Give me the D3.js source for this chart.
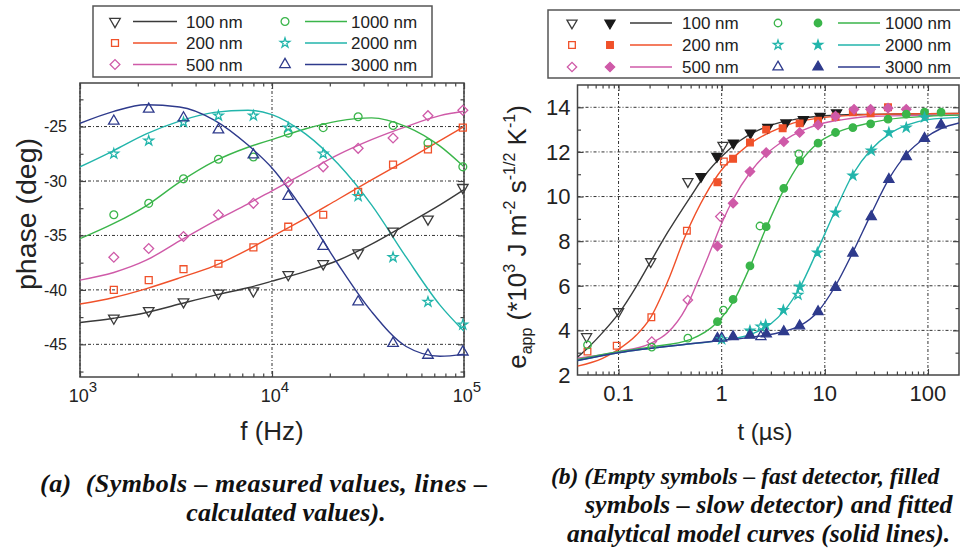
<!DOCTYPE html>
<html>
<head>
<meta charset="utf-8">
<script src="https://cdn.jsdelivr.net/npm/d3@7"></script>
<style>
  body { margin: 0; background: #fff; }
  svg { display: block; }
  text { font-family: Arial, "Liberation Sans", sans-serif; fill: #222; }
</style>
</head>
<body>
<div id="chart"></div>
<script>
// ---------- shared series info ----------
const seriesLabels = ["100 nm", "200 nm", "500 nm", "1000 nm", "2000 nm", "3000 nm"];
const seriesColors = ["#3a3a3a", "#f0512a", "#cf5aa8", "#3ab54a", "#22b5ab", "#2e3a8c"];
const seriesKinds = ["down", "square", "diamond", "circle", "star", "up"];

// ---------- panel (a): phase vs frequency ----------
const measFreq = [1500, 2280, 3460, 5260, 8000, 12150, 18480, 28100, 42700, 64900, 98600];
const phaseMeas100 = [-42.6, -41.9, -41.1, -40.3, -40.1, -38.6, -37.6, -36.6, -34.6, -33.5, -30.6];
const phaseMeas200 = [-40.0, -39.1, -38.1, -37.6, -36.1, -34.2, -33.1, -31.0, -28.5, -27.1, -25.1];
const phaseMeas500 = [-37.0, -36.2, -35.1, -33.1, -32.05, -30.1, -28.7, -27.0, -26.05, -24.0, -23.5];
const phaseMeas1000 = [-33.1, -32.05, -29.8, -28.0, -27.8, -25.6, -25.1, -24.1, -24.9, -26.5, -28.7];
const phaseMeas2000 = [-27.5, -26.3, -24.6, -24.0, -24.0, -25.1, -27.5, -31.4, -37.0, -41.1, -43.2];
const phaseMeas3000 = [-24.5, -23.4, -24.2, -25.3, -27.6, -31.4, -36.0, -41.1, -44.9, -46.0, -45.7];

const fitFreq = [1000, 1500, 2200, 3300, 5000, 7500, 10000, 15000, 22000, 33000, 50000, 75000, 100000];
const phaseFit100 = [-43.0, -42.6, -42.1, -41.3, -40.5, -39.8, -39.2, -38.3, -37.3, -35.8, -34.0, -32.2, -30.8];
const phaseFit200 = [-41.3, -40.7, -39.9, -38.9, -37.8, -36.3, -35.1, -33.4, -31.7, -29.9, -28.1, -26.3, -25.0];
const phaseFit500 = [-39.1, -38.4, -37.3, -35.5, -33.7, -32.1, -30.9, -29.2, -27.6, -26.2, -25.0, -24.0, -23.6];
const phaseFit1000 = [-35.3, -33.9, -32.3, -30.1, -28.2, -26.9, -26.2, -25.2, -24.5, -24.2, -25.0, -26.8, -28.7];
const phaseFit2000 = [-28.7, -27.2, -25.7, -24.5, -23.7, -23.5, -23.9, -25.7, -28.4, -32.2, -37.0, -41.4, -43.8];
const phaseFit3000 = [-24.7, -23.6, -23.0, -23.2, -24.4, -26.7, -28.8, -33.0, -37.6, -42.0, -45.2, -46.1, -45.9];

const freqMajor = [1e3, 1e4, 1e5];
const freqMinor = [2e3, 3e3, 4e3, 5e3, 6e3, 7e3, 8e3, 9e3, 2e4, 3e4, 4e4, 5e4, 6e4, 7e4, 8e4, 9e4];
const phaseMajor = [-25, -30, -35, -40, -45];
const phaseMinor = [-22.5, -27.5, -32.5, -37.5, -42.5, -47.5];

// ---------- panel (b): e_app vs time ----------
const fastT100 = [0.049, 0.1, 0.205, 0.47, 1.03];
const fastE100 = [3.72, 4.84, 7.08, 10.67, 12.3];
const fastT200 = [0.05, 0.096, 0.208, 0.46, 1.05];
const fastE200 = [3.05, 3.31, 4.59, 8.47, 11.57];
const fastT500 = [0.21, 0.47, 0.97];
const fastE500 = [3.5, 5.36, 9.1];
const fastT1000 = [0.05, 0.21, 0.47, 1.04, 2.35, 5.6];
const fastE1000 = [3.35, 3.25, 3.65, 4.91, 8.68, 11.91];
const fastT2000 = [1.0, 2.4, 5.5];
const fastE2000 = [3.6, 4.17, 5.59];
const fastT3000 = [1.0, 2.4];
const fastE3000 = [3.65, 3.72];

const slowT100 = [0.63, 0.9, 1.3, 1.9, 2.8, 4.2, 6.2, 9, 13];
const slowE100 = [10.9, 11.8, 12.4, 12.85, 13.1, 13.3, 13.45, 13.6, 13.75];
const slowT200 = [0.91, 1.29, 1.88, 2.7, 3.9, 5.7, 8.6, 12.7, 18.7, 27.8, 41];
const slowE200 = [10.64, 11.69, 12.42, 13.0, 13.06, 13.28, 13.4, 13.58, 13.78, 13.73, 14.0];
const slowT500 = [0.91, 1.29, 1.88, 2.7, 4.0, 5.7, 8.6, 12.7, 19.2, 27.8, 41, 61.6];
const slowE500 = [7.78, 9.7, 11.12, 11.97, 12.46, 12.87, 13.21, 13.6, 13.91, 13.91, 13.96, 13.91];
const slowT1000 = [0.91, 1.29, 1.88, 2.7, 4.0, 5.7, 8.6, 12.7, 18.7, 27.8, 41, 61.6, 92.6, 134];
const slowE1000 = [4.39, 5.39, 6.89, 8.65, 10.37, 11.6, 12.39, 12.87, 13.09, 13.26, 13.47, 13.69, 13.78, 13.78];
const slowT2000 = [1.88, 2.67, 3.96, 5.73, 8.46, 12.7, 18.7, 28.2, 41.8, 61.6, 92.6];
const slowE2000 = [3.99, 4.24, 4.91, 5.96, 7.48, 9.28, 10.94, 12.06, 12.87, 13.09, 13.55];
const slowT3000 = [0.91, 1.29, 1.88, 2.71, 4.0, 5.7, 8.6, 12.7, 18.7, 28.2, 41.8, 61.6, 92.6, 134];
const slowE3000 = [3.64, 3.72, 3.78, 3.84, 3.94, 4.2, 4.84, 5.93, 7.46, 9.1, 10.77, 11.79, 12.61, 13.21];

const fitT100 = [0.04, 0.05, 0.07, 0.1, 0.15, 0.2, 0.3, 0.5, 0.7, 1, 1.5, 2, 3, 5, 10, 20, 50, 200];
const fitE100 = [2.8, 3.2, 3.9, 4.75, 6.0, 7.0, 8.4, 10.0, 11.0, 11.8, 12.5, 12.85, 13.2, 13.45, 13.62, 13.68, 13.7, 13.72];
const fitT200 = [0.04, 0.07, 0.1, 0.15, 0.2, 0.3, 0.45, 0.7, 1, 1.5, 2, 3, 5, 10, 20, 50, 200];
const fitE200 = [2.4, 2.75, 3.15, 3.8, 4.5, 6.2, 8.3, 10.1, 11.2, 12.0, 12.45, 12.9, 13.3, 13.55, 13.65, 13.7, 13.72];
const fitT500 = [0.04, 0.1, 0.2, 0.3, 0.45, 0.6, 0.8, 1, 1.3, 1.9, 2.7, 4, 6, 9, 15, 30, 200];
const fitE500 = [2.75, 3.05, 3.4, 3.9, 5.0, 6.3, 7.7, 8.8, 9.9, 11.1, 11.9, 12.5, 12.95, 13.25, 13.45, 13.6, 13.65];
const fitT1000 = [0.04, 0.1, 0.2, 0.5, 0.9, 1.3, 1.9, 2.7, 4, 5.7, 8.6, 12.7, 20, 40, 100, 200];
const fitE1000 = [2.7, 3.05, 3.25, 3.6, 4.35, 5.3, 6.9, 8.6, 10.3, 11.5, 12.4, 12.85, 13.15, 13.45, 13.6, 13.65];
const fitT2000 = [0.04, 0.1, 0.5, 1, 2, 3, 4, 5.7, 8.5, 12.7, 18.7, 28, 42, 62, 100, 200];
const fitE2000 = [2.65, 3.0, 3.4, 3.55, 3.85, 4.3, 4.85, 5.9, 7.6, 9.4, 11.0, 12.1, 12.8, 13.2, 13.45, 13.55];
const fitT3000 = [0.04, 0.1, 0.5, 1, 2, 4, 5.7, 8.6, 12.7, 18.7, 28, 42, 62, 92, 134, 200];
const fitE3000 = [2.65, 3.0, 3.4, 3.55, 3.7, 3.95, 4.2, 4.85, 6.0, 7.5, 9.2, 10.8, 11.9, 12.6, 13.05, 13.3];

const timeMajor = [0.1, 1, 10, 100];
const timeMinor = [0.05, 0.06, 0.07, 0.08, 0.09, 0.2, 0.3, 0.4, 0.5, 0.6, 0.7, 0.8, 0.9,
  2, 3, 4, 5, 6, 7, 8, 9, 20, 30, 40, 50, 60, 70, 80, 90];
const eMajor = [2, 4, 6, 8, 10, 12, 14];
const eMinor = [3, 5, 7, 9, 11, 13];

// ---------- helpers ----------
const zip = (xs, ys) => xs.map((x, i) => [x, ys[i]]);

function symbolPath(kind, size) {
  const types = { down: d3.symbolTriangle, up: d3.symbolTriangle, square: d3.symbolSquare,
    diamond: d3.symbolSquare, circle: d3.symbolCircle, star: d3.symbolStar };
  // stars look much bigger than the others at the same area
  const s = kind === "star" ? size * 0.6 : size;
  return d3.symbol().type(types[kind]).size(s)();
}
function symbolRot(kind) {
  return kind === "down" ? 180 : kind === "diamond" ? 45 : 0;
}
function drawSymbol(g, kind, cx, cy, size, color, filled) {
  g.append("path")
    .attr("d", symbolPath(kind, size))
    .attr("transform", "translate(" + cx + "," + cy + ") rotate(" + symbolRot(kind) + ")")
    .attr("fill", filled ? color : "none")
    .attr("stroke", color)
    .attr("stroke-width", 1.3);
}

function frameAndTicks(g, x, y, w, h, xMaj, xMin, yMaj, yMin) {
  // dotted grid
  g.selectAll(".hgrid").data(yMaj).enter().append("line")
    .attr("x1", 0).attr("x2", w)
    .attr("y1", (d) => y(d)).attr("y2", (d) => y(d))
    .attr("stroke", "#333").attr("stroke-width", 1).attr("stroke-dasharray", "3,2,1,2");
  g.selectAll(".vgrid").data(xMaj).enter().append("line")
    .attr("y1", 0).attr("y2", h)
    .attr("x1", (d) => x(d)).attr("x2", (d) => x(d))
    .attr("stroke", "#333").attr("stroke-width", 1).attr("stroke-dasharray", "3,2,1,2");

  const tickStyle = (sel) => {
    sel.select(".domain").remove();
    sel.selectAll("line").attr("stroke", "#444").attr("stroke-width", 1.2);
  };
  g.append("g").attr("transform", "translate(0," + h + ")")
    .call(d3.axisBottom(x).tickValues(xMaj).tickSize(-6).tickFormat("")).call(tickStyle);
  g.append("g").attr("transform", "translate(0," + h + ")")
    .call(d3.axisBottom(x).tickValues(xMin).tickSize(-3.5).tickFormat("")).call(tickStyle);
  g.append("g")
    .call(d3.axisTop(x).tickValues(xMaj).tickSize(-6).tickFormat("")).call(tickStyle);
  g.append("g")
    .call(d3.axisTop(x).tickValues(xMin).tickSize(-3.5).tickFormat("")).call(tickStyle);
  g.append("g")
    .call(d3.axisLeft(y).tickValues(yMaj).tickSize(-6).tickFormat("")).call(tickStyle);
  g.append("g")
    .call(d3.axisLeft(y).tickValues(yMin).tickSize(-3.5).tickFormat("")).call(tickStyle);
  g.append("g").attr("transform", "translate(" + w + ",0)")
    .call(d3.axisRight(y).tickValues(yMaj).tickSize(-6).tickFormat("")).call(tickStyle);
  g.append("g").attr("transform", "translate(" + w + ",0)")
    .call(d3.axisRight(y).tickValues(yMin).tickSize(-3.5).tickFormat("")).call(tickStyle);

  g.append("rect")
    .attr("width", w).attr("height", h)
    .attr("fill", "none").attr("stroke", "#444").attr("stroke-width", 1.5);
}

// canvas
const svg = d3.select("#chart").append("svg").attr("width", 960).attr("height", 548);

// ======================= panel (a) =======================
const mA = { left: 80, top: 83 }, wA = 384, hA = 294;
const gA = svg.append("g").attr("transform", "translate(" + mA.left + "," + mA.top + ")");
const xA = d3.scaleLog().domain([1e3, 1e5]).range([0, wA]);
const yA = d3.scaleLinear().domain([-48, -21]).range([hA, 0]);

gA.append("clipPath").attr("id", "clipA").append("rect").attr("width", wA).attr("height", hA);
frameAndTicks(gA, xA, yA, wA, hA, freqMajor, freqMinor, phaseMajor, phaseMinor);

const fitsA = [phaseFit100, phaseFit200, phaseFit500, phaseFit1000, phaseFit2000, phaseFit3000];
const measA = [phaseMeas100, phaseMeas200, phaseMeas500, phaseMeas1000, phaseMeas2000, phaseMeas3000];
const lineA = d3.line().x((d) => xA(d[0])).y((d) => yA(d[1])).curve(d3.curveMonotoneX);

const plotA = gA.append("g").attr("clip-path", "url(#clipA)");
fitsA.forEach((vals, i) => {
  plotA.append("path")
    .datum(zip(fitFreq, vals))
    .attr("d", lineA)
    .attr("fill", "none")
    .attr("stroke", seriesColors[i])
    .attr("stroke-width", 1.4);
});
const markA = gA.append("g");
measA.forEach((vals, i) => {
  zip(measFreq, vals).forEach((d) => {
    drawSymbol(markA, seriesKinds[i], xA(d[0]), yA(d[1]), 48, seriesColors[i], false);
  });
});

// tick labels
gA.selectAll(".ylab").data(phaseMajor).enter().append("text")
  .attr("x", -13).attr("y", (d) => yA(d)).attr("dy", "0.36em")
  .attr("text-anchor", "end").style("font-size", "16px")
  .text((d) => String(d));
freqMajor.forEach((d) => {
  const t = gA.append("text")
    .attr("x", xA(d) + 3).attr("y", hA + 25)
    .attr("text-anchor", "middle").style("font-size", "18px");
  t.append("tspan").text("10");
  t.append("tspan").attr("dy", -10).style("font-size", "15px").text(Math.round(Math.log10(d)));
});

// axis titles
gA.append("text")
  .attr("transform", "translate(" + (27 - mA.left) + "," + (214 - mA.top) + ") rotate(-90)")
  .attr("text-anchor", "middle").attr("dy", "0.35em")
  .attr("textLength", 152).attr("lengthAdjust", "spacingAndGlyphs")
  .style("font-size", "27px")
  .text("phase (deg)");
gA.append("text")
  .attr("x", 272 - mA.left).attr("y", 440 - mA.top)
  .attr("text-anchor", "middle").style("font-size", "26px")
  .text("f (Hz)");

// legend (a)
const legA = svg.append("g");
legA.append("rect").attr("x", 93).attr("y", 6).attr("width", 339).attr("height", 71)
  .attr("fill", "#fff").attr("stroke", "#555").attr("stroke-width", 1.5);
seriesLabels.forEach((lab, i) => {
  const col = Math.floor(i / 3), row = i % 3;
  const cy = 21.5 + row * 21.5;
  const sx = col === 0 ? 115 : 285;
  const lx0 = col === 0 ? 133 : 305, lx1 = col === 0 ? 177 : 347;
  const tx = col === 0 ? 186 : 351;
  drawSymbol(legA, seriesKinds[i], sx, cy, 48, seriesColors[i], false);
  legA.append("line").attr("x1", lx0).attr("x2", lx1).attr("y1", cy).attr("y2", cy)
    .attr("stroke", seriesColors[i]).attr("stroke-width", 1.4);
  legA.append("text").attr("x", tx).attr("y", cy).attr("dy", "0.36em")
    .style("font-size", "17px").text(lab);
});

// ======================= panel (b) =======================
const mB = { left: 577.5, top: 85 }, wB = 381.5, hB = 290;
const gB = svg.append("g").attr("transform", "translate(" + mB.left + "," + mB.top + ")");
const xB = d3.scaleLog().domain([0.04, 200]).range([0, wB]);
const yB = d3.scaleLinear().domain([2, 15]).range([hB, 0]);

gB.append("clipPath").attr("id", "clipB").append("rect").attr("width", wB).attr("height", hB);
frameAndTicks(gB, xB, yB, wB, hB, timeMajor, timeMinor, eMajor.slice(1), eMinor);

const fitsB = [[fitT100, fitE100], [fitT200, fitE200], [fitT500, fitE500],
  [fitT1000, fitE1000], [fitT2000, fitE2000], [fitT3000, fitE3000]];
const fastB = [[fastT100, fastE100], [fastT200, fastE200], [fastT500, fastE500],
  [fastT1000, fastE1000], [fastT2000, fastE2000], [fastT3000, fastE3000]];
const slowB = [[slowT100, slowE100], [slowT200, slowE200], [slowT500, slowE500],
  [slowT1000, slowE1000], [slowT2000, slowE2000], [slowT3000, slowE3000]];
const lineB = d3.line().x((d) => xB(d[0])).y((d) => yB(d[1])).curve(d3.curveMonotoneX);

const plotB = gB.append("g").attr("clip-path", "url(#clipB)");
fitsB.forEach((s, i) => {
  plotB.append("path")
    .datum(zip(s[0], s[1]))
    .attr("d", lineB)
    .attr("fill", "none")
    .attr("stroke", seriesColors[i])
    .attr("stroke-width", 1.4);
});
const markB = gB.append("g");
slowB.forEach((s, i) => {
  zip(s[0], s[1]).forEach((d) => {
    drawSymbol(markB, seriesKinds[i], xB(d[0]), yB(d[1]), 44, i === 0 ? "#1a1a1a" : seriesColors[i], true);
  });
});
fastB.forEach((s, i) => {
  zip(s[0], s[1]).forEach((d) => {
    drawSymbol(markB, seriesKinds[i], xB(d[0]), yB(d[1]), 44, seriesColors[i], false);
  });
});

// tick labels
gB.selectAll(".ylab").data(eMajor).enter().append("text")
  .attr("x", -7).attr("y", (d) => yB(d)).attr("dy", "0.36em")
  .attr("text-anchor", "end").style("font-size", "22px")
  .text((d) => d);
gB.selectAll(".xlab").data(timeMajor).enter().append("text")
  .attr("x", (d) => xB(d)).attr("y", hB + 26)
  .attr("text-anchor", "middle").style("font-size", "22px")
  .text((d) => String(d));

// axis titles
const yT = gB.append("text")
  .attr("transform", "translate(" + (517 - mB.left) + "," + (237 - mB.top) + ") rotate(-90)")
  .attr("text-anchor", "middle").attr("dy", "0.35em")
  .style("font-size", "26px");
yT.append("tspan").text("e");
yT.append("tspan").attr("dy", 6).style("font-size", "16px").text("app");
yT.append("tspan").attr("dy", -6).text(" (*10");
yT.append("tspan").attr("dy", -11).style("font-size", "16px").text("3");
yT.append("tspan").attr("dy", 11).text(" J m");
yT.append("tspan").attr("dy", -11).style("font-size", "16px").text("-2");
yT.append("tspan").attr("dy", 11).text(" s");
yT.append("tspan").attr("dy", -11).style("font-size", "16px").text("-1/2");
yT.append("tspan").attr("dy", 11).text(" K");
yT.append("tspan").attr("dy", -11).style("font-size", "16px").text("-1");
yT.append("tspan").attr("dy", 11).text(")");

gB.append("text")
  .attr("x", 765 - mB.left).attr("y", 440 - mB.top)
  .attr("text-anchor", "middle").style("font-size", "24px")
  .text("t (\u00b5s)");

// legend (b)
const legB = svg.append("g");
legB.append("rect").attr("x", 548).attr("y", 10).attr("width", 440).attr("height", 68)
  .attr("fill", "#fff").attr("stroke", "#555").attr("stroke-width", 1.5);
seriesLabels.forEach((lab, i) => {
  const col = Math.floor(i / 3), row = i % 3;
  const cy = 23 + row * 22;
  const ox = col === 0 ? 572 : 778;
  const fx = col === 0 ? 610 : 818;
  const lx0 = col === 0 ? 630 : 838, lx1 = col === 0 ? 672 : 880;
  const tx = col === 0 ? 682 : 885;
  drawSymbol(legB, seriesKinds[i], ox, cy, 44, seriesColors[i], false);
  drawSymbol(legB, seriesKinds[i], fx, cy, 44, i === 0 ? "#1a1a1a" : seriesColors[i], true);
  legB.append("line").attr("x1", lx0).attr("x2", lx1).attr("y1", cy).attr("y2", cy)
    .attr("stroke", seriesColors[i]).attr("stroke-width", 1.4);
  legB.append("text").attr("x", tx).attr("y", cy).attr("dy", "0.36em")
    .style("font-size", "17px").text(lab);
});

// ======================= captions =======================
const capStyle = (t) => t
  .style("font-family", '"Liberation Serif", "Times New Roman", serif')
  .style("font-weight", "bold").style("font-style", "italic")
  .style("font-size", "26px").style("fill", "#111");
svg.append("text").attr("x", 40).attr("y", 492).call(capStyle)
  .attr("textLength", 447).attr("lengthAdjust", "spacing")
  .text("(a)\u00a0\u00a0(Symbols \u2013 measured values, lines \u2013");
svg.append("text").attr("x", 286).attr("y", 521).attr("text-anchor", "middle").call(capStyle)
  .text("calculated values).");
svg.append("text").attr("x", 551).attr("y", 484).call(capStyle)
  .style("font-size", "23.5px")
  .text("(b) (Empty symbols \u2013 fast detector, filled");
svg.append("text").attr("x", 585).attr("y", 513).call(capStyle)
  .text("symbols \u2013 slow detector) and fitted");
svg.append("text").attr("x", 567).attr("y", 542).call(capStyle)
  .style("font-size", "25.5px")
  .text("analytical model curves (solid lines).");
</script>
</body>
</html>
